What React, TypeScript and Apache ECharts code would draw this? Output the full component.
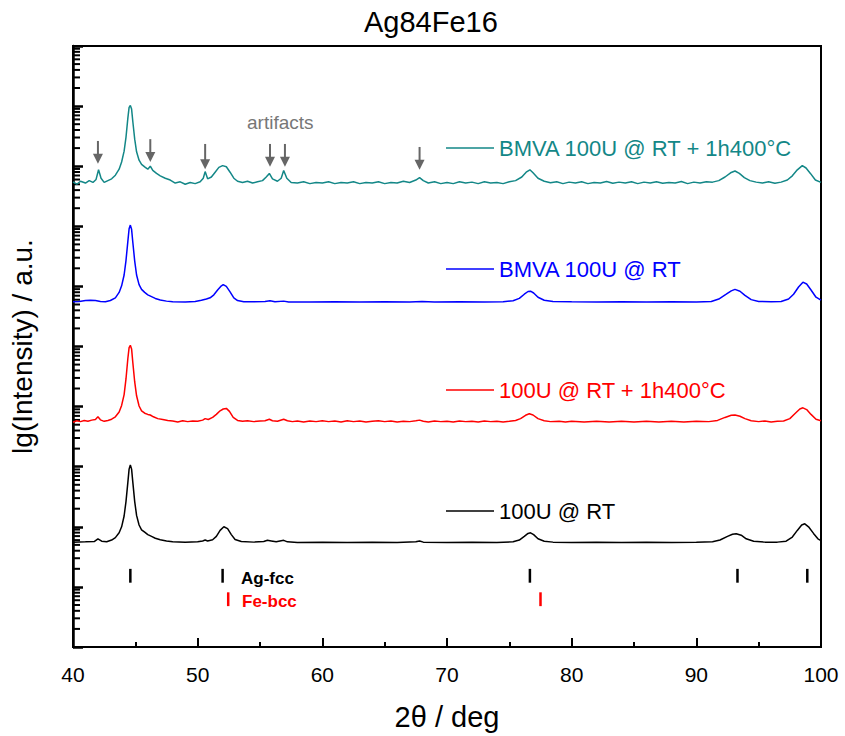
import React, { useEffect, useRef } from "react";
import * as echarts from "echarts";

const FONT = '"Liberation Sans", Arial, Helvetica, sans-serif';

// x: 2θ (deg), y: lg(Intensity)
const CURVE_100U_RT: [number, number][] = [
  [40, 1.745], [41, 1.75], [41.7, 1.755], [42.0, 1.8], [42.3, 1.76], [42.7, 1.75], [43.1, 1.78], [43.4, 1.82],
  [43.7, 1.9], [43.9, 2.0], [44.1, 2.18], [44.25, 2.42], [44.4, 2.74], [44.5, 2.96], [44.6, 3.03], [44.7, 2.96],
  [44.8, 2.74], [44.95, 2.42], [45.1, 2.19], [45.3, 2.03], [45.5, 1.95], [45.75, 1.91], [46.0, 1.87], [46.3, 1.84],
  [46.6, 1.81], [47.0, 1.785], [47.5, 1.765], [48, 1.75], [49, 1.745], [50, 1.75], [50.4, 1.765], [50.6, 1.78],
  [50.8, 1.765], [51.2, 1.785], [51.5, 1.84], [51.8, 1.94], [52.1, 2.0], [52.4, 1.97], [52.7, 1.87], [53.0, 1.79],
  [53.5, 1.755], [54.5, 1.745], [55.3, 1.755], [55.6, 1.775], [55.9, 1.765], [56.3, 1.75], [56.9, 1.775], [57.2, 1.75],
  [58, 1.74], [60, 1.745], [62, 1.74], [64, 1.745], [66, 1.74], [67.5, 1.75], [67.8, 1.765], [68.1, 1.745],
  [70, 1.74], [72, 1.745], [74, 1.74], [75.3, 1.75], [75.8, 1.78], [76.2, 1.84], [76.5, 1.89], [76.7, 1.9],
  [76.95, 1.87], [77.3, 1.8], [77.8, 1.76], [78.5, 1.745], [80, 1.74], [82, 1.745], [84, 1.74], [86, 1.745],
  [88, 1.74], [90, 1.745], [91.3, 1.75], [91.9, 1.78], [92.5, 1.84], [92.9, 1.875], [93.2, 1.885], [93.6, 1.86],
  [94.0, 1.8], [94.6, 1.76], [95.5, 1.745], [96.5, 1.745], [97.2, 1.76], [97.7, 1.83], [98.1, 1.94], [98.45, 2.03],
  [98.7, 2.05], [99.0, 2.0], [99.4, 1.89], [99.75, 1.8], [100, 1.77],
];

const CURVE_100U_RT_400: [number, number][] = [
  [40, 3.74], [40.3, 3.765], [40.6, 3.75], [40.9, 3.77], [41.2, 3.755], [41.5, 3.775], [41.8, 3.785], [42.0, 3.83],
  [42.2, 3.78], [42.5, 3.755], [42.8, 3.77], [43.1, 3.79], [43.4, 3.83], [43.7, 3.91], [43.9, 4.02], [44.1, 4.2],
  [44.25, 4.46], [44.4, 4.8], [44.5, 4.98], [44.6, 5.02], [44.7, 4.96], [44.8, 4.73], [44.95, 4.41], [45.1, 4.18],
  [45.3, 4.01], [45.5, 3.93], [45.75, 3.89], [46.0, 3.87], [46.2, 3.86], [46.45, 3.83], [46.8, 3.8], [47.2, 3.785],
  [47.6, 3.77], [48.0, 3.76], [48.4, 3.745], [48.8, 3.765], [49.2, 3.75], [49.6, 3.76], [50.0, 3.755], [50.4, 3.775],
  [50.6, 3.8], [50.85, 3.785], [51.2, 3.82], [51.5, 3.87], [51.8, 3.93], [52.05, 3.96], [52.3, 3.97], [52.55, 3.92],
  [52.85, 3.82], [53.2, 3.77], [53.6, 3.755], [54.0, 3.765], [54.5, 3.75], [55.0, 3.76], [55.4, 3.765], [55.75, 3.79],
  [56.0, 3.765], [56.4, 3.755], [56.9, 3.79], [57.2, 3.765], [57.6, 3.75], [58.0, 3.76], [58.5, 3.745], [59.0, 3.76],
  [59.5, 3.75], [60.0, 3.765], [60.5, 3.75], [61, 3.76], [61.5, 3.745], [62, 3.765], [62.5, 3.75], [63, 3.76],
  [63.5, 3.745], [64, 3.755], [64.5, 3.765], [65, 3.75], [65.5, 3.76], [66, 3.745], [66.5, 3.755], [67, 3.75],
  [67.5, 3.765], [67.8, 3.775], [68.1, 3.755], [68.5, 3.745], [69, 3.76], [69.5, 3.75], [70, 3.755], [70.5, 3.745],
  [71, 3.76], [71.5, 3.75], [72, 3.755], [72.5, 3.745], [73, 3.76], [73.5, 3.75], [74, 3.755], [74.5, 3.745],
  [75, 3.755], [75.5, 3.77], [75.9, 3.8], [76.3, 3.855], [76.6, 3.88], [76.9, 3.86], [77.3, 3.8], [77.8, 3.765],
  [78.3, 3.75], [79, 3.755], [79.5, 3.745], [80, 3.755], [81, 3.745], [82, 3.755], [83, 3.745], [84, 3.755],
  [85, 3.745], [86, 3.755], [87, 3.745], [88, 3.755], [89, 3.745], [90, 3.755], [91, 3.75], [91.7, 3.77],
  [92.3, 3.82], [92.8, 3.855], [93.1, 3.86], [93.5, 3.84], [93.9, 3.8], [94.4, 3.765], [95, 3.75], [95.5, 3.76],
  [96, 3.745], [96.5, 3.755], [97.0, 3.76], [97.5, 3.8], [97.9, 3.88], [98.3, 3.96], [98.55, 3.98], [98.85, 3.95],
  [99.2, 3.87], [99.6, 3.79], [100, 3.765],
];

const CURVE_BMVA_RT: [number, number][] = [
  [40, 5.745], [40.5, 5.75], [41.0, 5.765], [41.4, 5.77], [41.8, 5.765], [42.2, 5.75], [42.6, 5.745], [43.0, 5.765],
  [43.4, 5.81], [43.7, 5.9], [43.9, 6.01], [44.1, 6.19], [44.25, 6.43], [44.4, 6.75], [44.5, 6.96], [44.6, 7.02],
  [44.7, 6.95], [44.8, 6.73], [44.95, 6.42], [45.1, 6.19], [45.3, 6.03], [45.5, 5.95], [45.75, 5.9], [46.0, 5.86],
  [46.3, 5.83], [46.6, 5.8], [47.0, 5.775], [47.5, 5.755], [48, 5.745], [49, 5.74], [49.8, 5.75], [50.3, 5.77],
  [50.7, 5.79], [51.0, 5.81], [51.3, 5.86], [51.6, 5.94], [51.85, 6.0], [52.05, 6.03], [52.3, 6.0], [52.6, 5.91],
  [52.9, 5.81], [53.2, 5.765], [53.7, 5.745], [54.5, 5.745], [55.4, 5.75], [55.8, 5.76], [56.2, 5.745], [56.9, 5.755],
  [57.3, 5.74], [59, 5.74], [61, 5.745], [63, 5.74], [65, 5.745], [67, 5.74], [68, 5.75], [69, 5.74],
  [71, 5.745], [73, 5.74], [74.5, 5.745], [75.3, 5.76], [75.8, 5.8], [76.2, 5.87], [76.5, 5.915], [76.7, 5.92],
  [76.95, 5.89], [77.3, 5.82], [77.8, 5.77], [78.5, 5.75], [80, 5.745], [82, 5.74], [84, 5.745], [86, 5.74],
  [88, 5.745], [90, 5.74], [91.2, 5.75], [91.8, 5.79], [92.4, 5.87], [92.8, 5.925], [93.1, 5.95], [93.5, 5.92],
  [93.9, 5.85], [94.4, 5.78], [95.0, 5.75], [96, 5.745], [96.8, 5.75], [97.4, 5.79], [97.8, 5.87], [98.2, 5.99],
  [98.55, 6.07], [98.85, 6.04], [99.2, 5.94], [99.6, 5.82], [100, 5.77],
];

const CURVE_BMVA_RT_400: [number, number][] = [
  [40, 7.74], [40.3, 7.7], [40.6, 7.75], [41.0, 7.72], [41.3, 7.76], [41.6, 7.73], [41.85, 7.78], [42.05, 7.94],
  [42.25, 7.8], [42.5, 7.73], [42.8, 7.76], [43.1, 7.79], [43.4, 7.85], [43.7, 7.95], [43.9, 8.07], [44.1, 8.25],
  [44.25, 8.48], [44.4, 8.8], [44.5, 8.98], [44.6, 9.01], [44.7, 8.95], [44.8, 8.74], [44.95, 8.45], [45.1, 8.24],
  [45.3, 8.1], [45.5, 8.03], [45.8, 7.98], [46.0, 7.95], [46.2, 8.0], [46.4, 7.93], [46.7, 7.88], [47.0, 7.84],
  [47.4, 7.8], [47.8, 7.77], [48.2, 7.72], [48.6, 7.74], [49.0, 7.7], [49.4, 7.73], [49.8, 7.71], [50.2, 7.74],
  [50.45, 7.8], [50.6, 7.91], [50.8, 7.79], [51.1, 7.82], [51.4, 7.9], [51.7, 7.98], [52.0, 8.01], [52.3, 7.99],
  [52.6, 7.9], [52.9, 7.8], [53.2, 7.75], [53.6, 7.73], [54.0, 7.75], [54.4, 7.72], [54.8, 7.74], [55.2, 7.76],
  [55.5, 7.82], [55.75, 7.88], [56.0, 7.79], [56.4, 7.75], [56.7, 7.8], [56.9, 7.93], [57.15, 7.8], [57.5, 7.73],
  [58, 7.72], [58.5, 7.74], [59, 7.71], [59.5, 7.73], [60, 7.72], [60.5, 7.74], [61, 7.71], [61.5, 7.73],
  [62, 7.72], [62.5, 7.74], [63, 7.71], [63.5, 7.73], [64, 7.72], [64.5, 7.74], [65, 7.71], [65.5, 7.73],
  [66, 7.72], [66.5, 7.75], [67, 7.73], [67.5, 7.77], [67.8, 7.81], [68.1, 7.76], [68.5, 7.72], [69, 7.74],
  [69.5, 7.71], [70, 7.73], [70.5, 7.71], [71, 7.74], [71.5, 7.72], [72, 7.735], [72.5, 7.71], [73, 7.74],
  [73.5, 7.72], [74, 7.73], [74.5, 7.71], [75, 7.74], [75.5, 7.76], [76.0, 7.82], [76.35, 7.9], [76.65, 7.94],
  [76.9, 7.89], [77.3, 7.8], [77.8, 7.75], [78.3, 7.725], [78.8, 7.74], [79.3, 7.71], [79.8, 7.735], [80.3, 7.72],
  [80.8, 7.74], [81.3, 7.71], [81.8, 7.73], [82.3, 7.72], [82.8, 7.745], [83.3, 7.715], [83.8, 7.735], [84.3, 7.72],
  [84.8, 7.74], [85.3, 7.71], [85.8, 7.735], [86.3, 7.72], [86.8, 7.74], [87.3, 7.715], [87.8, 7.73], [88.3, 7.72],
  [88.8, 7.745], [89.3, 7.71], [89.8, 7.735], [90.3, 7.72], [90.8, 7.74], [91.3, 7.735], [91.8, 7.76], [92.3, 7.82],
  [92.75, 7.89], [93.1, 7.92], [93.45, 7.88], [93.85, 7.81], [94.3, 7.76], [94.8, 7.735], [95.3, 7.72], [95.8, 7.74],
  [96.3, 7.715], [96.8, 7.735], [97.3, 7.77], [97.7, 7.84], [98.1, 7.94], [98.5, 8.01], [98.8, 7.97], [99.15, 7.88],
  [99.55, 7.77], [100, 7.73],
];

const SERIES_NAMES = ["BMVA 100U @ RT + 1h400°C", "BMVA 100U @ RT", "100U @ RT + 1h400°C", "100U @ RT"];
const SERIES_COLORS = ["#138787", "#0000ff", "#ff0000", "#000000"];
const SERIES_DATA = [CURVE_BMVA_RT_400, CURVE_BMVA_RT, CURVE_100U_RT_400, CURVE_100U_RT];
const LEGEND_TOPS = [132, 253, 374, 495];

// reference reflections
const AG_FCC_POS = [44.6, 52.0, 76.65, 93.3, 98.9];
const AG_FCC_RANGE = [1.3, 1.07];
const FE_BCC_POS = [52.45, 77.5];
const FE_BCC_RANGE = [0.91, 0.68];

// artifact arrows
const ARTIFACT_POS = [42.0, 46.2, 50.6, 55.8, 57.0, 67.8];
const ARROW_TOP = [8.42, 8.45, 8.37, 8.37, 8.37, 8.32];
const ARROW_TIP = [8.04, 8.07, 7.95, 7.99, 7.99, 7.94];

// log-axis minor ticks
const DECADES = [0, 1, 2, 3, 4, 5, 6, 7, 8, 9];
const MINOR_STEPS = [2, 3, 4, 5, 6, 7, 8, 9];

export default function App() {
  const ref = useRef<HTMLDivElement>(null);

  useEffect(() => {
    document.body.style.margin = "0";
    if (!ref.current) return;
    const chart = echarts.init(ref.current, undefined, { renderer: "svg" });

    const minorData: number[][] = [];
    DECADES.forEach((d) => MINOR_STEPS.forEach((k) => minorData.push([40, d + Math.log10(k)])));

    const curveSeries = SERIES_NAMES.map((name, i) => ({
      name,
      type: "line",
      data: SERIES_DATA[i],
      showSymbol: false,
      symbol: "none",
      lineStyle: { color: SERIES_COLORS[i], width: 1.5 },
      itemStyle: { color: SERIES_COLORS[i] },
      z: 3,
    }));

    const refSeries = (pos: number[], range: number[], color: string) => ({
      type: "custom",
      data: pos.map((p) => [p, range[0], range[1]]),
      encode: { x: 0, y: [1, 2] },
      silent: true,
      renderItem: (_p: any, api: any) => {
        const a = api.coord([api.value(0), api.value(1)]);
        const b = api.coord([api.value(0), api.value(2)]);
        return {
          type: "line",
          shape: { x1: a[0], y1: a[1], x2: b[0], y2: b[1] },
          style: { stroke: color, lineWidth: 2.5 },
        };
      },
    });

    const option: any = {
      animation: false,
      backgroundColor: "#fff",
      title: {
        text: "Ag84Fe16",
        left: 359,
        top: 2,
        textStyle: { fontFamily: FONT, fontSize: 29, fontWeight: "normal", color: "#000" },
      },
      grid: {
        left: 71,
        right: 24,
        top: 46,
        bottom: 84,
        show: true,
        borderColor: "#000",
        borderWidth: 2,
        backgroundColor: "transparent",
      },
      legend: SERIES_NAMES.map((name, i) => ({
        data: [{ name, icon: "rect" }],
        left: 441,
        top: LEGEND_TOPS[i],
        itemWidth: 48,
        itemHeight: 1.5,
        selectedMode: false,
        itemStyle: { color: SERIES_COLORS[i] },
        textStyle: { color: SERIES_COLORS[i], fontSize: 22, fontFamily: FONT },
      })),
      xAxis: {
        type: "value",
        min: 40,
        max: 100,
        interval: 10,
        name: "2θ / deg",
        nameLocation: "middle",
        nameGap: 55,
        nameTextStyle: { fontFamily: FONT, fontSize: 29, color: "#000" },
        axisLine: { lineStyle: { color: "#000", width: 2 } },
        axisTick: { inside: true, length: 9, lineStyle: { color: "#000", width: 2 } },
        minorTick: { show: true, splitNumber: 2, length: 5, lineStyle: { color: "#000", width: 2 } },
        axisLabel: { fontFamily: FONT, fontSize: 21, color: "#000", margin: 17 },
        splitLine: { show: false },
      },
      yAxis: {
        type: "value",
        min: 0,
        max: 10,
        interval: 1,
        name: "lg(Intensity) / a.u.",
        nameLocation: "middle",
        nameGap: 37,
        nameTextStyle: { fontFamily: FONT, fontSize: 28, color: "#000" },
        axisLine: { show: true, lineStyle: { color: "#000", width: 2.5 } },
        axisTick: { show: true, inside: true, length: 10, lineStyle: { color: "#000", width: 2.5 } },
        axisLabel: { show: false },
        splitLine: { show: false },
      },
      graphic: [
        {
          type: "text",
          left: 247,
          top: 113,
          style: { text: "artifacts", fontFamily: FONT, fontSize: 19, fill: "#777" },
        },
        {
          type: "text",
          left: 241,
          top: 570,
          style: { text: "Ag-fcc", fontFamily: FONT, fontSize: 17, fontWeight: "bold", fill: "#000" },
        },
        {
          type: "text",
          left: 242,
          top: 593,
          style: { text: "Fe-bcc", fontFamily: FONT, fontSize: 17, fontWeight: "bold", fill: "#ff0000" },
        },
      ],
      series: [
        ...curveSeries,
        refSeries(AG_FCC_POS, AG_FCC_RANGE, "#000"),
        refSeries(FE_BCC_POS, FE_BCC_RANGE, "#ff0000"),
        {
          type: "custom",
          data: ARTIFACT_POS.map((p, i) => [p, ARROW_TOP[i], ARROW_TIP[i]]),
          encode: { x: 0, y: [1, 2] },
          silent: true,
          z: 4,
          renderItem: (_p: any, api: any) => {
            const a = api.coord([api.value(0), api.value(1)]);
            const b = api.coord([api.value(0), api.value(2)]);
            const head = 10;
            return {
              type: "group",
              children: [
                {
                  type: "line",
                  shape: { x1: a[0], y1: a[1], x2: b[0], y2: b[1] - head + 1 },
                  style: { stroke: "#666", lineWidth: 2 },
                },
                {
                  type: "polygon",
                  shape: { points: [[b[0] - 5, b[1] - head], [b[0] + 5, b[1] - head], [b[0], b[1]]] },
                  style: { fill: "#666" },
                },
              ],
            };
          },
        },
        {
          type: "custom",
          data: minorData,
          encode: { x: 0, y: 1 },
          silent: true,
          clip: false,
          renderItem: (_p: any, api: any) => {
            const a = api.coord([api.value(0), api.value(1)]);
            return {
              type: "line",
              shape: { x1: a[0], y1: a[1], x2: a[0] + 7, y2: a[1] },
              style: { stroke: "#000", lineWidth: 2 },
            };
          },
        },
      ],
    };

    chart.setOption(option);
    return () => chart.dispose();
  }, []);

  return <div ref={ref} style={{ width: 845, height: 736 }} />;
}
